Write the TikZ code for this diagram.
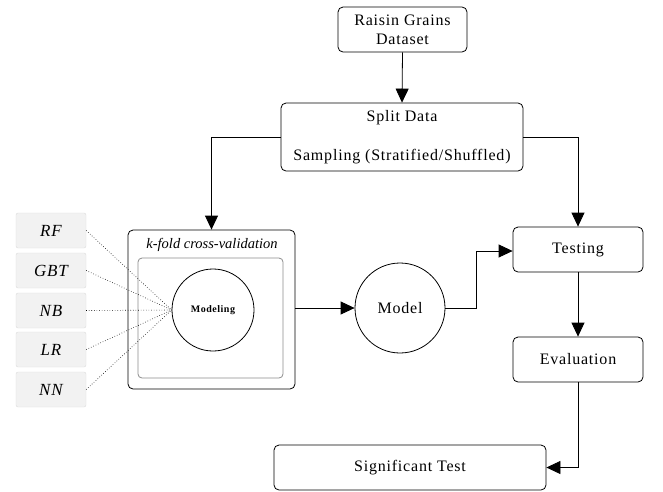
\documentclass[tikz,border=0pt]{standalone}
\usepackage{fontspec}
\setmainfont{Liberation Serif}[LetterSpace=5]
\usetikzlibrary{arrows.meta}
\begin{document}
\begin{tikzpicture}[x=1pt,y=-1pt,
  box/.style={draw, rounded corners=5pt, line width=0.8pt, align=center, inner sep=0pt, font=\fontsize{16}{19}\selectfont},
  algbox/.style={draw=black!14, fill=black!5, rounded corners=2pt, minimum width=70pt, minimum height=35pt, inner sep=0pt, font=\fontsize{17}{20}\selectfont\itshape},
  circ/.style={draw, circle, line width=0.8pt, inner sep=0pt},
  arr/.style={-{Triangle[length=14pt,width=13pt]}, line width=0.8pt},
  dotl/.style={dotted, line width=0.6pt}]
\useasboundingbox (0,0) rectangle (663,491);
\node[box, minimum width=129pt, minimum height=45pt] (raisin) at (402.5,29.5) {Raisin Grains\\Dataset};
\node[box, minimum width=242pt, minimum height=68pt] (split) at (402,137) {};
\node[font=\fontsize{16}{19}\selectfont] (splitt) at (402,118) {Split Data};
\node[font=\fontsize{16}{19}\selectfont] (samp) at (402,157) {Sampling (Stratified/Shuffled)};
\node[box, minimum width=167pt, minimum height=159pt] (kfold) at (211.5,309.5) {};
\node[font=\fontsize{14.5}{17}\selectfont\itshape\addfontfeatures{LetterSpace=0}] (kfl) at (212,245) {k-fold cross-validation};
\node[draw=black!45, rounded corners=4pt, line width=0.8pt, minimum width=145pt, minimum height=120pt, inner sep=0pt] (inner) at (210.5,318) {};
\node[circ, minimum size=82pt, font=\fontsize{10}{12}\selectfont\bfseries] (modeling) at (213,310) {Modeling};
\node[algbox] (rf) at (51,230.5) {RF};
\node[algbox] (gbt) at (51,270.5) {GBT};
\node[algbox] (nb) at (51,310.5) {NB};
\node[algbox] (lr) at (51,349.5) {LR};
\node[algbox] (nn) at (51,389.5) {NN};
\foreach \n in {rf,gbt,nb,lr,nn} \draw[dotl] (\n.east) -- (modeling.west);
\node[circ, minimum size=90pt, font=\fontsize{16}{19}\selectfont] (model) at (400,308) {Model};
\node[box, minimum width=130pt, minimum height=45pt] (testing) at (578,249.5) {Testing};
\node[box, minimum width=130pt, minimum height=45pt] (eval) at (578,359.5) {Evaluation};
\node[box, minimum width=272pt, minimum height=45pt] (sig) at (410,467.5) {Significant Test};
\draw[arr] (raisin.south) -- (split.north);
\draw[arr] (split.west) -| (kfold.north);
\draw[arr] (split.east) -| (testing.north);
\draw[arr] (kfold.east |- model.west) -- (model.west);
\draw[arr] (model.east) -- (476,308) |- (testing.west |- 0,251);
\draw[arr] (testing.south) -- (eval.north);
\draw[arr] (eval.south) |- (sig.east);
\end{tikzpicture}
\end{document}
